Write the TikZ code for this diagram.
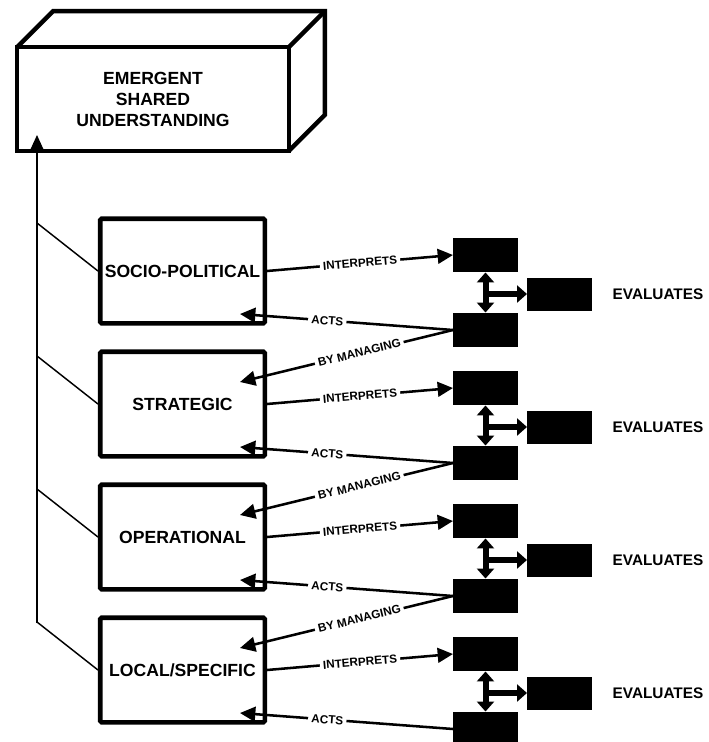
\documentclass[tikz,border=0pt]{standalone}
\usepackage{fontspec}
\setmainfont{Liberation Sans}
\usetikzlibrary{arrows.meta,calc}
\begin{document}
\begin{tikzpicture}[x=0.75pt,y=-0.75pt,
  lvl/.style={draw, line width=3.4pt, rounded corners=1pt, minimum width=123.4pt, minimum height=78.4pt, inner sep=0pt, font=\fontsize{13.2}{15}\selectfont\bfseries},
  blk/.style={fill=black, draw=none, minimum width=48.75pt, minimum height=26.2pt, inner sep=0pt, outer sep=0pt},
  conn/.style={line width=1.9pt, -{Triangle[length=11.5pt,width=11pt]}},
  lbl/.style={fill=white, inner xsep=2.4pt, inner ysep=1pt, sloped, font=\fontsize{8.8}{10}\selectfont\bfseries},
  evl/.style={inner sep=0pt, font=\fontsize{11.5}{13}\selectfont\bfseries},
  dbl/.style={line width=4.5pt, {Triangle[length=7.5pt,width=12.75pt]}-{Triangle[length=7.5pt,width=12.75pt]}},
  harrow/.style={line width=4.5pt, -{Triangle[length=7.5pt,width=12.75pt]}},
  thinline/.style={line width=1.1pt},
  cubeline/.style={line width=3.2pt, line join=miter}
]
\useasboundingbox (0,0) rectangle (709,742);

% cube
\node[draw, cubeline, outer sep=0pt, minimum width=203.8pt, minimum height=77.8pt, inner sep=0pt, align=center,
      font=\fontsize{13.2}{15.75}\selectfont\bfseries] (cube) at (153,99) {EMERGENT\\SHARED\\UNDERSTANDING};
\draw[cubeline] (cube.north west) -- ($(cube.north west)+(36,-36)$) -- ($(cube.north east)+(36,-36)$)
   -- ($(cube.south east)+(36,-36)$) -- (cube.south east);
\draw[cubeline] (cube.north east) -- ($(cube.north east)+(36,-36)$);

% left vertical arrow
\coordinate (vb) at (37,623);
\coordinate (vt) at (37,135);
\draw[thinline, -{Triangle[length=11pt,width=9.75pt]}] (vb) -- (vt);

% level boxes
\node[lvl] (lv1) at (182.5,271) {SOCIO-POLITICAL};
\node[lvl] (lv2) at (182.5,404) {STRATEGIC};
\node[lvl] (lv3) at (182.5,537) {OPERATIONAL};
\node[lvl] (lv4) at (182.5,670) {LOCAL/SPECIFIC};

% diagonals
\coordinate (d1) at (37,223);
\coordinate (d2) at (37,356);
\coordinate (d3) at (37,489);
\coordinate (d4) at (37,622);
\foreach \k in {1,2,3,4} { \draw[thinline] (d\k) -- (lv\k.west); }

% black boxes
\node[blk] (t1) at (485.5,255) {};
\node[blk] (b1) at (485.5,330) {};
\node[blk, minimum height=24.75pt] (e1) at (559.5,294) {};
\node[blk] (t2) at (485.5,388) {};
\node[blk] (b2) at (485.5,463) {};
\node[blk, minimum height=24.75pt] (e2) at (559.5,427) {};
\node[blk] (t3) at (485.5,521) {};
\node[blk] (b3) at (485.5,596) {};
\node[blk, minimum height=24.75pt] (e3) at (559.5,560) {};
\node[blk] (t4) at (485.5,654) {};
\node[blk] (b4) at (485.5,729) {};
\node[blk, minimum height=24.75pt] (e4) at (559.5,693) {};

\node[evl] (ev1) at (658,294) {EVALUATES};
\node[evl] (ev2) at (658,427) {EVALUATES};
\node[evl] (ev3) at (658,560) {EVALUATES};
\node[evl] (ev4) at (658,693) {EVALUATES};

% arrow end points
\coordinate (a1) at (240,314);
\coordinate (a2) at (240,447);
\coordinate (a3) at (240,580);
\coordinate (a4) at (240,713);
\coordinate (m2) at (240,382);
\coordinate (m3) at (240,515);
\coordinate (m4) at (240,648);

\foreach \k in {1,2,3,4} {
  \draw[conn] (lv\k.east) -- node[lbl] (i\k) {INTERPRETS} (t\k.west);
  \draw[conn] (b\k.west) -- node[lbl, pos=0.59] (ac\k) {ACTS} (a\k);
  \draw[dbl] (t\k.south) -- (b\k.north);
  \draw[harrow] (t\k.south |- e\k.west) -- (e\k.west);
}
\draw[conn] (b1.west) -- node[lbl, pos=0.44] (bm2) {BY MANAGING} (m2);
\draw[conn] (b2.west) -- node[lbl, pos=0.44] (bm3) {BY MANAGING} (m3);
\draw[conn] (b3.west) -- node[lbl, pos=0.44] (bm4) {BY MANAGING} (m4);
\end{tikzpicture}
\end{document}
